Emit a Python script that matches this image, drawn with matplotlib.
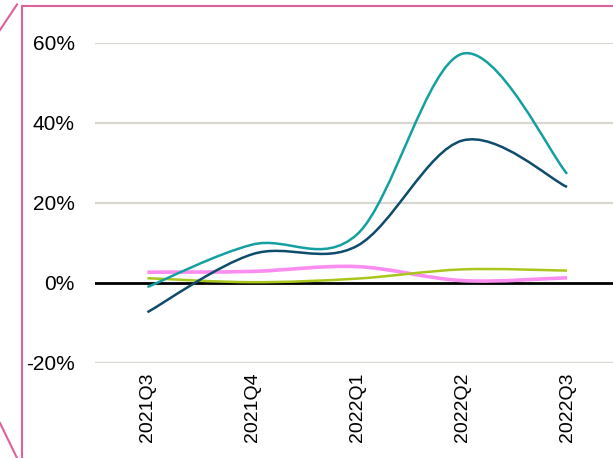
import numpy as np
import matplotlib
matplotlib.use("Agg")
import matplotlib.pyplot as plt
from matplotlib.path import Path
from matplotlib.patches import PathPatch
from matplotlib.lines import Line2D

plt.rcParams['font.family'] = ['Liberation Sans', 'DejaVu Sans']

quarters = ["2021Q3", "2021Q4", "2022Q1", "2022Q2", "2022Q3"]
teal = [-1.0, 9.6, 12.2, 57.3, 27.3]
navy = [-7.3, 7.2, 9.3, 35.6, 24.0]
pink = [2.7, 2.9, 4.1, 0.6, 1.3]
green = [1.2, 0.2, 1.1, 3.4, 3.1]

yticks = [-20, 0, 20, 40, 60]


def smooth_path(xs, ys):
    # excel-like smoothed line: catmull-rom converted to cubic bezier
    xs = np.asarray(xs, float)
    ys = np.asarray(ys, float)
    n = len(xs)
    verts = [(xs[0], ys[0])]
    codes = [Path.MOVETO]
    for i in range(n - 1):
        i0 = max(i - 1, 0)
        i3 = min(i + 2, n - 1)
        c1 = (xs[i] + (xs[i + 1] - xs[i0]) / 6, ys[i] + (ys[i + 1] - ys[i0]) / 6)
        c2 = (xs[i + 1] - (xs[i3] - xs[i]) / 6, ys[i + 1] - (ys[i3] - ys[i]) / 6)
        verts += [c1, c2, (xs[i + 1], ys[i + 1])]
        codes += [Path.CURVE4] * 3
    return Path(verts, codes)


W, H = 613, 458
fig = plt.figure(figsize=(W / 100, H / 100), dpi=100)
ax = fig.add_axes([95 / W, 95 / H, 524.5 / W, 320 / H])

x = np.arange(len(quarters))

for yv in [-20, 20, 40, 60]:
    ax.axhline(yv, color="#d9d5d0", lw=1.6, zorder=1)
ax.axhline(0, color="black", lw=2.0, zorder=2)

series = [
    (pink, "#fb8cf0", 2.6),
    (green, "#a9c61a", 1.8),
    (navy, "#0d4c6c", 1.8),
    (teal, "#14a0a2", 1.8),
]
for vals, col, lw in series:
    p = PathPatch(smooth_path(x, vals), fill=False, edgecolor=col, lw=lw,
                  capstyle="butt", zorder=3)
    ax.add_patch(p)

ax.set_xlim(-0.5, len(quarters) - 0.5)
ax.set_ylim(-20, 60)
ax.set_xticks(x)
ax.set_xticklabels(quarters, rotation=90, fontsize=14)
ax.set_yticks(yticks)
ax.set_yticklabels([f"{v}%" for v in yticks], fontsize=15)
ax.tick_params(axis="both", length=0)
ax.tick_params(axis="y", pad=14.5)
ax.tick_params(axis="x", pad=7)
for s in ax.spines.values():
    s.set_visible(False)

# pink frame on the left/top
pc = "#e0609c"
frame = [
    ([21.5, 21.5], [5.5, 458]),
    ([21.5, 613], [5.5, 5.5]),
    ([0, 17], [30, 4.5]),
    ([0, 17], [423, 458]),
]
for xs, ys in frame:
    fig.add_artist(Line2D([v / W for v in xs], [1 - v / H for v in ys],
                          color=pc, lw=1.5, transform=fig.transFigure))

fig.savefig("out.png", dpi=100)
